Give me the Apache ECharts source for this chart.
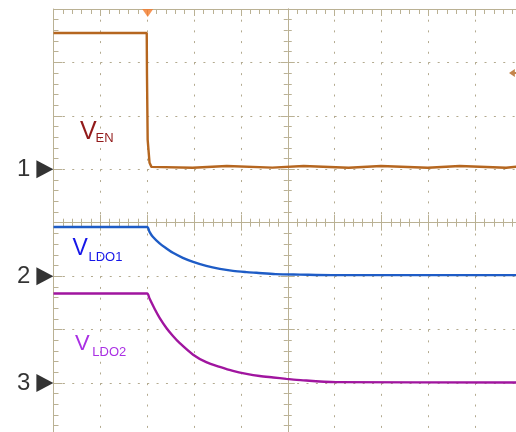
<!DOCTYPE html>
<html><head><meta charset="utf-8">
<script src="https://cdn.jsdelivr.net/npm/echarts@6/dist/echarts.min.js"></script>
<style>html,body{margin:0;padding:0;background:#fff}#c{width:516px;height:432px}</style>
</head><body><div id="c"></div>
<script>
// Scope coordinates in divisions: x = time (-5..5), y = vertical (-4..4)
const vEN = [[-5,3.55],[-3.01,3.55],[-3.005,2.8],[-2.99,1.55],[-2.95,1.12],[-2.91,1.045],[-2.88,1.028],
  [-2.03,1.028],[-2.025,1.06],[-1.30,1.06],[-1.295,1.03],[-0.33,1.03],[-0.325,1.06],[0.34,1.06],[0.345,1.028],
  [1.30,1.028],[1.305,1.06],[1.99,1.06],[1.995,1.028],[2.99,1.028],[2.995,1.06],[3.67,1.06],[3.675,1.028],
  [4.66,1.028],[4.665,1.06],[5,1.06]];
const vLDO1 = [[-5,-0.08],[-3.1,-0.08],[-3.0,-0.08],[-2.95,-0.17],[-2.88,-0.264],[-2.735,-0.388],[-2.59,-0.481],
  [-2.45,-0.564],[-2.24,-0.657],[-2.02,-0.732],[-1.74,-0.807],[-1.45,-0.863],[-1.17,-0.901],
  [-0.88,-0.925],[-0.67,-0.938],[-0.26,-0.963],[0.26,-0.972],[0.95,-0.981],[5,-0.981]];
const vLDO2 = [[-5,-1.324],[-3.1,-1.324],[-3.0,-1.324],[-2.95,-1.42],[-2.84,-1.615],[-2.735,-1.78],[-2.59,-1.97],
  [-2.45,-2.12],[-2.31,-2.25],[-2.02,-2.47],[-1.74,-2.61],[-1.45,-2.70],[-1.17,-2.775],
  [-0.88,-2.83],[-0.60,-2.87],[-0.31,-2.897],[-0.03,-2.923],[0.19,-2.942],[1.03,-2.985],[5,-2.99]];
const channelNames = ['1','2','3'];
const channelGround = [1,-1,-3];
const traceNames = ['EN','LDO1','LDO2'];
const triggerTime = -3;
const triggerLevel = 2.8;

const FONT = '"Liberation Sans", Arial, sans-serif';
const tan = '#BAB194';
const dot = '#B3AA8F';

const chart = echarts.init(document.getElementById('c'), null, {renderer:'canvas'});

function axisBase(extra){
  return Object.assign({type:'value', axisLabel:{show:false}, splitLine:{show:false}, minorSplitLine:{show:false}}, extra);
}
const xAxes = [
  axisBase({min:-5,max:5,interval:1,position:'top',
    axisLine:{show:true,onZero:false,lineStyle:{color:tan,width:1}},
    axisTick:{show:true,inside:true,length:7,lineStyle:{color:tan}},
    minorTick:{show:true,splitNumber:5,length:5,lineStyle:{color:tan}},
    splitLine:{show:true,lineStyle:{color:dot,width:1,type:[2,8.69]}}}),
  axisBase({min:-5,max:5,interval:1,position:'bottom',
    axisLine:{show:true,onZero:true,onZeroAxisIndex:0,lineStyle:{color:tan,width:1}},
    axisTick:{show:true,inside:false,length:8,lineStyle:{color:tan}},
    minorTick:{show:true,splitNumber:5,length:4,lineStyle:{color:tan}}}),
  axisBase({min:-5,max:5,interval:1,position:'bottom',
    axisLine:{show:true,onZero:true,onZeroAxisIndex:0,lineStyle:{color:tan,width:1}},
    axisTick:{show:true,inside:true,length:8,lineStyle:{color:tan}},
    minorTick:{show:true,splitNumber:5,length:4,lineStyle:{color:tan}}})
];
const yAxes = [
  axisBase({min:-4,max:4,interval:1,position:'left',
    axisLine:{show:true,onZero:false,lineStyle:{color:tan,width:1}},
    axisTick:{show:true,inside:true,length:9,lineStyle:{color:tan}},
    minorTick:{show:true,splitNumber:5,length:5,lineStyle:{color:tan}},
    splitLine:{show:true,lineStyle:{color:dot,width:1,type:[2,7.37]}}}),
  axisBase({min:-4,max:4,interval:1,position:'left',
    axisLine:{show:true,onZero:true,onZeroAxisIndex:0,lineStyle:{color:tan,width:1}},
    axisTick:{show:true,inside:false,length:7,lineStyle:{color:tan}},
    minorTick:{show:true,splitNumber:5,length:4,lineStyle:{color:tan}}}),
  axisBase({min:-4,max:4,interval:1,position:'left',
    axisLine:{show:true,onZero:true,onZeroAxisIndex:0,lineStyle:{color:tan,width:1}},
    axisTick:{show:true,inside:true,length:7,lineStyle:{color:tan}},
    minorTick:{show:true,splitNumber:5,length:4,lineStyle:{color:tan}}})
];

function trace(data, color, smooth){
  return {type:'line', data, xAxisIndex:0, yAxisIndex:0, symbol:'none', showSymbol:false,
    smooth: smooth || false,
    lineStyle:{color, width:2.4}, z:3, silent:true};
}

function subLabel(x, y, main, sub, size, subSize, subDx, subDy, color){
  return [
    {type:'text', x, y, style:{text:main, font:size+'px '+FONT, fill:color, align:'left', verticalAlign:'middle'}, z:10},
    {type:'text', x:x+subDx, y:y+subDy, style:{text:sub, font:subSize+'px '+FONT, fill:color, align:'left', verticalAlign:'middle'}, z:10}
  ];
}

chart.setOption({
  animation:false,
  backgroundColor:'#ffffff',
  grid:{left:53.5, top:9, width:468.5, height:427.4, outerBoundsMode:'none', containLabel:false, show:false},
  xAxis:xAxes,
  yAxis:yAxes,
  series:[
    trace(vEN,'#B5661F'),
    trace(vLDO1,'#1E5CC6', 0.3),
    trace(vLDO2,'#A0159F', 0.3),
    {type:'scatter', xAxisIndex:0, yAxisIndex:0, clip:false, z:6, silent:true,
      data: channelGround.map((g,i)=>({value:[-5,g], name:channelNames[i]})),
      symbol:'triangle', symbolSize:[18,17], symbolRotate:-90, symbolOffset:[-8.6,0],
      itemStyle:{color:'#000'},
      label:{show:true, position:'left', distance:6, formatter:p=>p.name, color:'#000', fontSize:24, fontFamily:FONT}},
    {type:'scatter', xAxisIndex:0, yAxisIndex:0, clip:false, z:6, silent:true,
      data:[[triggerTime,4]], symbol:'triangle', symbolSize:[11,8], symbolRotate:180, symbolOffset:[0.5,4],
      itemStyle:{color:'#F47B2B'}},
    {type:'scatter', xAxisIndex:0, yAxisIndex:0, clip:false, z:6, silent:true,
      data:[[5,triggerLevel]], symbol:'path://M0,4 L5,0 L5,3 L12,3 L12,5 L5,5 L5,8 Z', symbolSize:[14,8],
      symbolKeepAspect:false, symbolOffset:[-6,0], itemStyle:{color:'#B5661F'}}
  ],
  graphic: [].concat(
    subLabel(80, 132.5, 'V', traceNames[0], 25, 13, 15.5, 6.2, '#921A1A'),
    subLabel(72.5, 248.3, 'V', traceNames[1], 23, 13, 16, 9.2, '#1616E8'),
    subLabel(75, 344.2, 'V', traceNames[2], 22, 13, 17.3, 7.8, '#AA30E4')
  )
});
</script></body></html>
